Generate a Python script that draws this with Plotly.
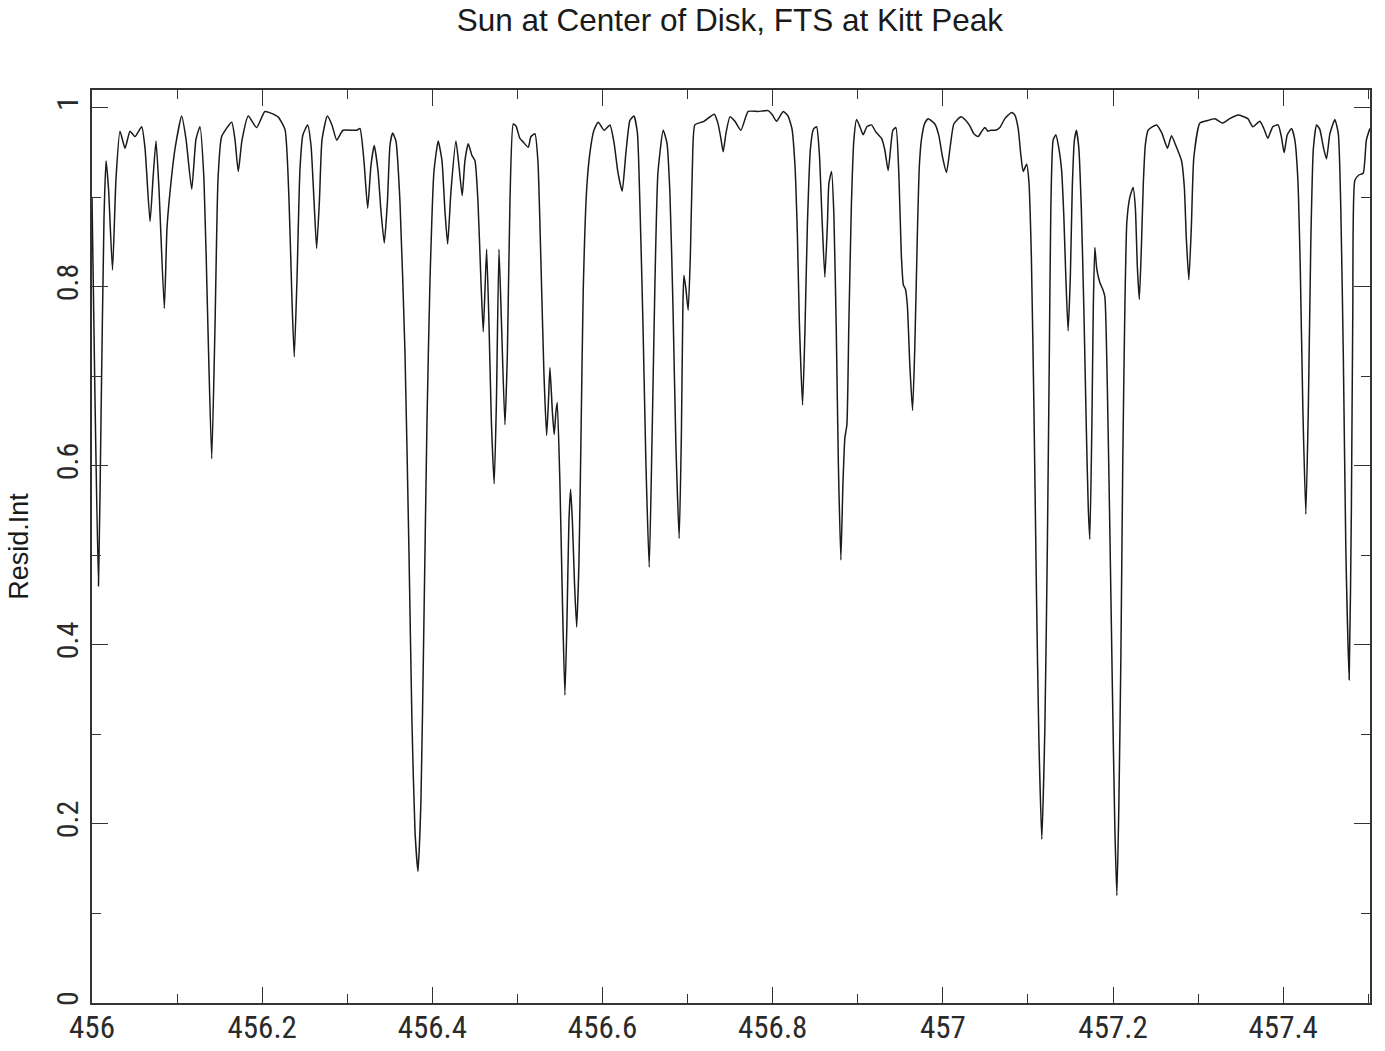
import plotly.graph_objects as go

title_text = "Sun at Center of Disk, FTS at Kitt Peak"
y_title = "Resid.Int"

wavelength_nm = [
    456.0000, 456.0035, 456.0076, 456.0106, 456.0141, 456.0165, 456.0194, 456.0241, 456.0282, 456.0329,
    456.0388, 456.0447, 456.0505, 456.0584, 456.0623, 456.0682, 456.0717, 456.0752, 456.0787, 456.0850,
    456.0881, 456.0917, 456.0975, 456.1054, 456.1105, 456.1172, 456.1222, 456.1269, 456.1316, 456.1363,
    456.1407, 456.1445, 456.1481, 456.1524, 456.1642, 456.1681, 456.1719, 456.1763, 456.1837, 456.1935,
    456.2033, 456.2186, 456.2268, 456.2315, 456.2350, 456.2377, 456.2409, 456.2444, 456.2479, 456.2535,
    456.2574, 456.2609, 456.2640, 456.2673, 456.2703, 456.2765, 456.2820, 456.2876, 456.2950, 456.3111,
    456.3149, 456.3196, 456.3240, 456.3279, 456.3317, 456.3361, 456.3396, 456.3435, 456.3472, 456.3502,
    456.3533, 456.3572, 456.3619, 456.3678, 456.3725, 456.3760, 456.3796, 456.3831, 456.3866, 456.3901,
    456.3937, 456.3972, 456.4019, 456.4069, 456.4113, 456.4148, 456.4180, 456.4219, 456.4277, 456.4313,
    456.4351, 456.4383, 456.4422, 456.4465, 456.4501, 456.4536, 456.4571, 456.4598, 456.4618, 456.4638,
    456.4665, 456.4694, 456.4727, 456.4753, 456.4783, 456.4812, 456.4853, 456.4882, 456.4912, 456.4951,
    456.4982, 456.5029, 456.5068, 456.5127, 456.5159, 456.5206, 456.5241, 456.5276, 456.5311, 456.5343,
    456.5364, 456.5382, 456.5411, 456.5432, 456.5452, 456.5468, 456.5499, 456.5529, 456.5558, 456.5582,
    456.5605, 456.5625, 456.5646, 456.5670, 456.5696, 456.5723, 456.5746, 456.5773, 456.5813, 456.5852,
    456.5899, 456.5949, 456.6020, 456.6087, 456.6134, 456.6181, 456.6231, 456.6275, 456.6322, 456.6369,
    456.6410, 456.6439, 456.6475, 456.6510, 456.6549, 456.6581, 456.6616, 456.6651, 456.6713, 456.6757,
    456.6792, 456.6827, 456.6862, 456.6901, 456.6927, 456.6945, 456.6957, 456.6980, 456.7007, 456.7033,
    456.7057, 456.7086, 456.7192, 456.7313, 456.7356, 456.7391, 456.7418, 456.7450, 456.7497, 456.7556,
    456.7626, 456.7712, 456.7826, 456.7947, 456.7991, 456.8046, 456.8124, 456.8179, 456.8226, 456.8261,
    456.8290, 456.8314, 456.8351, 456.8378, 456.8408, 456.8443, 456.8478, 456.8516, 456.8549, 456.8578,
    456.8613, 456.8643, 456.8660, 456.8692, 456.8719, 456.8748, 456.8772, 456.8801, 456.8825, 456.8848,
    456.8872, 456.8895, 456.8925, 456.8954, 456.8986, 456.9025, 456.9063, 456.9107, 456.9162, 456.9213,
    456.9280, 456.9318, 456.9357, 456.9389, 456.9412, 456.9448, 456.9483, 456.9512, 456.9536, 456.9559,
    456.9583, 456.9612, 456.9644, 456.9671, 456.9700, 456.9724, 456.9750, 456.9788, 456.9827, 456.9906,
    456.9953, 456.9994, 457.0043, 457.0088, 457.0129, 457.0212, 457.0270, 457.0317, 457.0364, 457.0415,
    457.0458, 457.0494, 457.0529, 457.0564, 457.0623, 457.0670, 457.0729, 457.0808, 457.0846, 457.0885,
    457.0917, 457.0944, 457.0984, 457.1011, 457.1040, 457.1070, 457.1099, 457.1128, 457.1163, 457.1199,
    457.1228, 457.1251, 457.1269, 457.1296, 457.1328, 457.1363, 457.1395, 457.1422, 457.1445, 457.1472,
    457.1498, 457.1521, 457.1545, 457.1570, 457.1598, 457.1627, 457.1657, 457.1686, 457.1709, 457.1727,
    457.1751, 457.1768, 457.1786, 457.1809, 457.1845, 457.1880, 457.1904, 457.1933, 457.1962, 457.1992,
    457.2021, 457.2045, 457.2068, 457.2092, 457.2115, 457.2139, 457.2162, 457.2197, 457.2236, 457.2262,
    457.2286, 457.2309, 457.2333, 457.2356, 457.2380, 457.2412, 457.2511, 457.2573, 457.2640, 457.2687,
    457.2738, 457.2805, 457.2838, 457.2861, 457.2891, 457.2920, 457.2949, 457.3020, 457.3114, 457.3196,
    457.3290, 457.3372, 457.3470, 457.3584, 457.3643, 457.3725, 457.3772, 457.3819, 457.3878, 457.3940,
    457.3978, 457.4011, 457.4048, 457.4098, 457.4137, 457.4172, 457.4201, 457.4231, 457.4266, 457.4295,
    457.4325, 457.4354, 457.4392, 457.4430, 457.4472, 457.4509, 457.4548, 457.4607, 457.4648, 457.4677,
    457.4707, 457.4736, 457.4775, 457.4801, 457.4818, 457.4842, 457.4889, 457.4940, 457.4977, 457.5018,
]

resid_intensity = [
    0.900, 0.676, 0.466, 0.653, 0.877, 0.941, 0.910, 0.819, 0.921, 0.974,
    0.955, 0.974, 0.968, 0.979, 0.955, 0.873, 0.921, 0.963, 0.910, 0.776,
    0.865, 0.906, 0.954, 0.991, 0.965, 0.909, 0.965, 0.979, 0.920, 0.753,
    0.608, 0.753, 0.920, 0.968, 0.984, 0.964, 0.929, 0.964, 0.991, 0.978,
    0.996, 0.990, 0.976, 0.898, 0.786, 0.722, 0.808, 0.931, 0.970, 0.981,
    0.958, 0.897, 0.843, 0.897, 0.964, 0.991, 0.981, 0.964, 0.975, 0.975,
    0.977, 0.941, 0.888, 0.936, 0.958, 0.930, 0.885, 0.849, 0.895, 0.958,
    0.972, 0.963, 0.896, 0.728, 0.505, 0.315, 0.192, 0.147, 0.225, 0.426,
    0.650, 0.806, 0.929, 0.963, 0.941, 0.885, 0.848, 0.907, 0.963, 0.935,
    0.902, 0.941, 0.960, 0.947, 0.941, 0.896, 0.807, 0.750, 0.795, 0.842,
    0.761, 0.649, 0.580, 0.672, 0.842, 0.761, 0.646, 0.727, 0.895, 0.982,
    0.980, 0.966, 0.962, 0.956, 0.968, 0.971, 0.940, 0.828, 0.705, 0.634,
    0.671, 0.710, 0.660, 0.635, 0.660, 0.671, 0.582, 0.448, 0.344, 0.426,
    0.538, 0.574, 0.538, 0.471, 0.420, 0.492, 0.626, 0.794, 0.908, 0.950,
    0.975, 0.984, 0.975, 0.981, 0.962, 0.928, 0.907, 0.950, 0.986, 0.991,
    0.972, 0.894, 0.760, 0.603, 0.487, 0.625, 0.804, 0.927, 0.975, 0.961,
    0.905, 0.782, 0.625, 0.519, 0.636, 0.782, 0.813, 0.798, 0.774, 0.837,
    0.938, 0.981, 0.985, 0.993, 0.983, 0.966, 0.951, 0.971, 0.990, 0.985,
    0.975, 0.996, 0.996, 0.997, 0.993, 0.985, 0.996, 0.991, 0.977, 0.937,
    0.859, 0.759, 0.668, 0.747, 0.870, 0.954, 0.976, 0.979, 0.948, 0.881,
    0.811, 0.870, 0.915, 0.929, 0.881, 0.747, 0.602, 0.495, 0.578, 0.631,
    0.646, 0.758, 0.892, 0.964, 0.987, 0.979, 0.970, 0.979, 0.981, 0.973,
    0.966, 0.953, 0.930, 0.958, 0.975, 0.978, 0.925, 0.835, 0.802, 0.798,
    0.779, 0.712, 0.662, 0.735, 0.858, 0.936, 0.966, 0.983, 0.988, 0.982,
    0.969, 0.946, 0.928, 0.958, 0.982, 0.990, 0.986, 0.980, 0.971, 0.968,
    0.974, 0.978, 0.974, 0.975, 0.975, 0.978, 0.988, 0.995, 0.992, 0.977,
    0.947, 0.929, 0.937, 0.918, 0.834, 0.666, 0.465, 0.297, 0.183, 0.308,
    0.510, 0.722, 0.889, 0.964, 0.970, 0.955, 0.931, 0.878, 0.811, 0.751,
    0.811, 0.911, 0.963, 0.975, 0.955, 0.888, 0.776, 0.642, 0.553, 0.518,
    0.643, 0.777, 0.844, 0.820, 0.805, 0.797, 0.789, 0.688, 0.531, 0.353,
    0.197, 0.120, 0.218, 0.386, 0.610, 0.777, 0.872, 0.900, 0.911, 0.889,
    0.822, 0.786, 0.844, 0.916, 0.959, 0.975, 0.981, 0.972, 0.955, 0.969,
    0.958, 0.941, 0.911, 0.855, 0.808, 0.866, 0.944, 0.983, 0.986, 0.988,
    0.983, 0.988, 0.992, 0.988, 0.979, 0.985, 0.977, 0.966, 0.979, 0.981,
    0.968, 0.950, 0.970, 0.977, 0.964, 0.920, 0.819, 0.663, 0.546, 0.663,
    0.853, 0.954, 0.981, 0.976, 0.956, 0.943, 0.971, 0.987, 0.971, 0.887,
    0.719, 0.507, 0.361, 0.551, 0.774, 0.919, 0.925, 0.927, 0.964, 0.977,
]

x_tick_vals = [456.0, 456.2, 456.4, 456.6, 456.8, 457.0, 457.2, 457.4]
x_tick_text = ["456", "456.2", "456.4", "456.6", "456.8", "457", "457.2", "457.4"]
y_tick_vals = [0.0, 0.2, 0.4, 0.6, 0.8, 1.0]
y_tick_text = ["0", "0.2", "0.4", "0.6", "0.8", "1"]

label_font = "Liberation Sans Narrow, Roboto Condensed, Liberation Sans, Arial"
title_font = "Liberation Sans, Arial, sans-serif"
ink = "#1a1a1a"
label_ink = "#2a2a2a"

fig = go.Figure()
fig.add_trace(go.Scatter(
    x=wavelength_nm, y=resid_intensity, mode="lines",
    line=dict(color=ink, width=1.5, shape="spline", smoothing=0.5),
    showlegend=False, hoverinfo="skip",
))

axis_common = dict(
    showgrid=False, zeroline=False, showline=True, linecolor="#333333", linewidth=1.5,
    mirror="ticks", ticks="inside", tickcolor="#333333", tickwidth=1.3, automargin=False,
)

fig.update_xaxes(
    range=[456.0, 457.502], tickmode="array", tickvals=x_tick_vals, ticktext=x_tick_text,
    ticklen=16, tickfont=dict(family=label_font, size=31, color=label_ink),
    ticklabelstandoff=-4,
    minor=dict(dtick=0.1, tick0=456.0, ticks="inside", ticklen=9, tickcolor="#333333", tickwidth=1.2),
    **axis_common,
)
fig.update_yaxes(
    range=[0.0, 1.02], tickmode="array", tickvals=y_tick_vals, ticktext=y_tick_text,
    ticklen=16, tickangle=-90, tickfont=dict(family=label_font, size=30, color=label_ink),
    minor=dict(dtick=0.1, tick0=0.0, ticks="inside", ticklen=9, tickcolor="#333333", tickwidth=1.2),
    title=dict(text=y_title, font=dict(family=title_font, size=27, color=ink), standoff=14),
    **axis_common,
)

fig.update_layout(
    width=1385, height=1051,
    margin=dict(l=92, r=15, t=90, b=48),
    paper_bgcolor="white", plot_bgcolor="white",
    title=dict(text=title_text, x=0.527, xanchor="center", y=0.981, yanchor="middle",
               font=dict(family=title_font, size=31.5, color=ink)),
)

fig.write_html("out.html")
